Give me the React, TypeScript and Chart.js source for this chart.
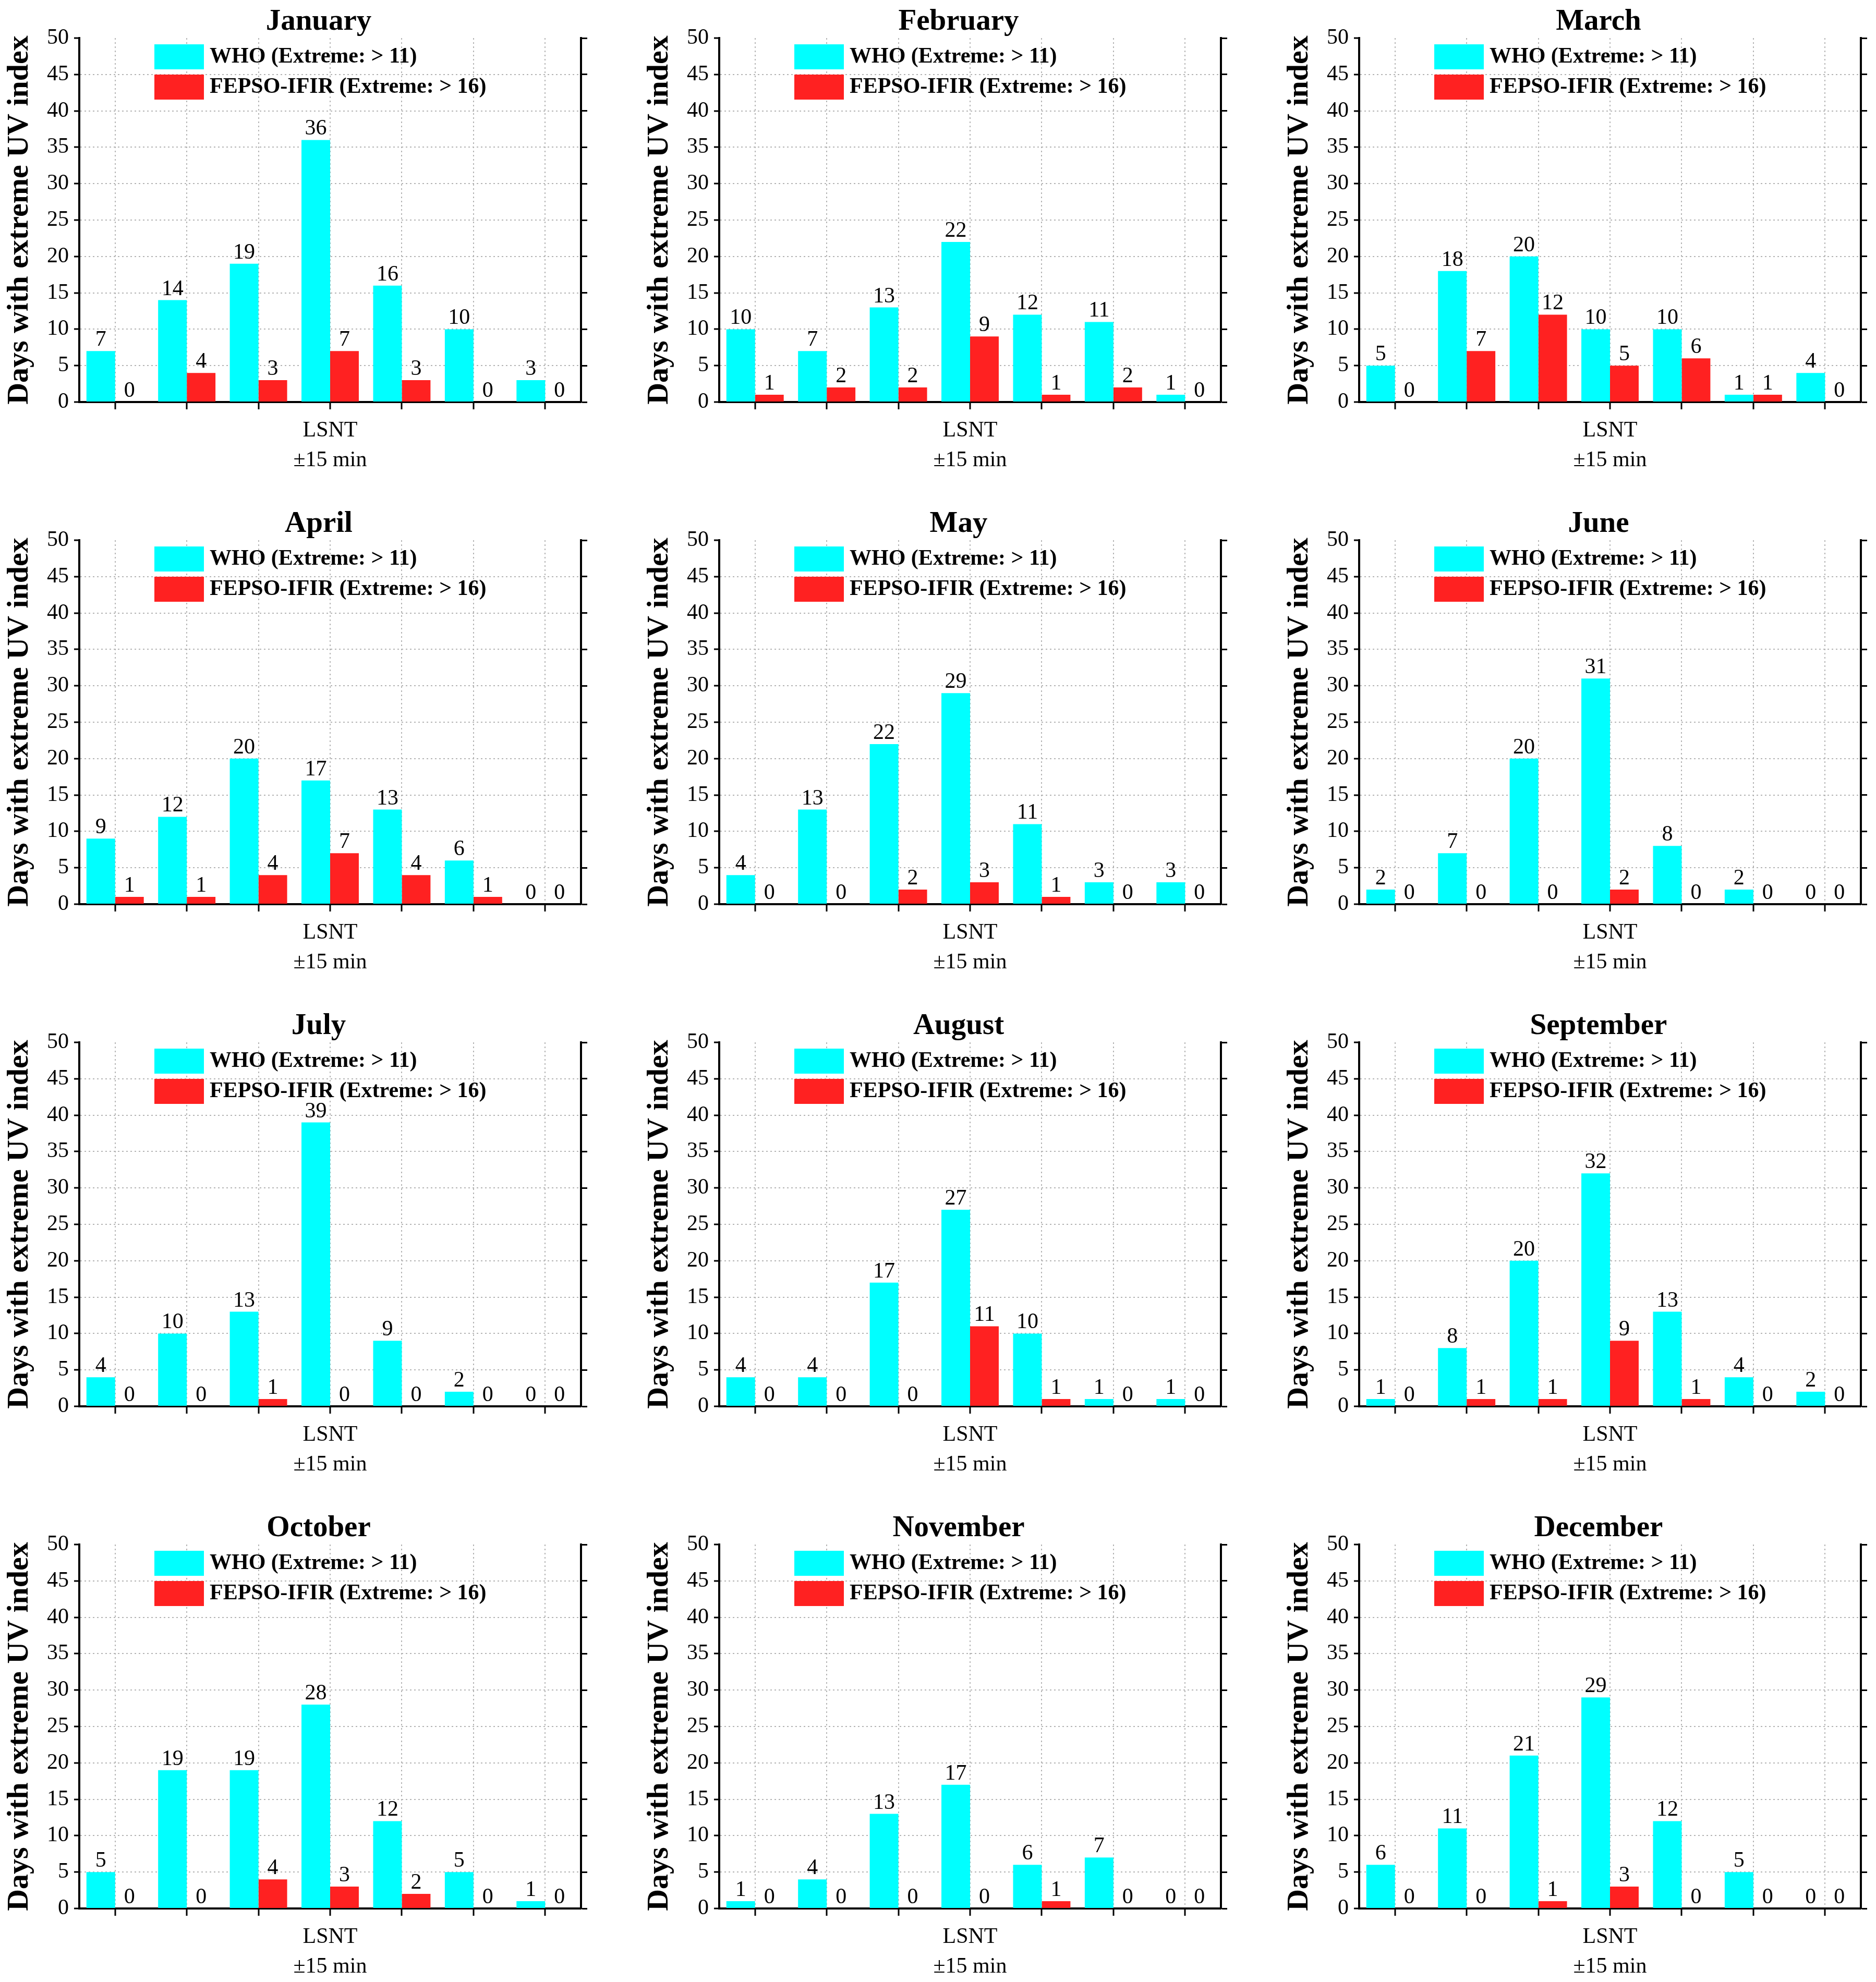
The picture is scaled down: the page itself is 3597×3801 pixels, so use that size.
import React, { useEffect, useRef } from 'react';
import { Chart, registerables } from 'chart.js';

Chart.register(...registerables);

const FONT = '"Liberation Serif", "Times New Roman", Times, serif';
const CYAN = '#00FFFF';
const RED = '#FF2121';
const GRID = '#b4b4b4';

const seriesNames = ['WHO (Extreme: > 11)', 'FEPSO-IFIR (Extreme: > 16)'];
const categories: (string | string[])[] = ['', '', '', ['LSNT', '±15 min'], '', '', ''];
const yAxisTitle = 'Days with extreme UV index';
const months = [
  'January', 'February', 'March', 'April', 'May', 'June',
  'July', 'August', 'September', 'October', 'November', 'December',
];

const whoJan = [7, 14, 19, 36, 16, 10, 3];
const fepsoJan = [0, 4, 3, 7, 3, 0, 0];
const whoFeb = [10, 7, 13, 22, 12, 11, 1];
const fepsoFeb = [1, 2, 2, 9, 1, 2, 0];
const whoMar = [5, 18, 20, 10, 10, 1, 4];
const fepsoMar = [0, 7, 12, 5, 6, 1, 0];
const whoApr = [9, 12, 20, 17, 13, 6, 0];
const fepsoApr = [1, 1, 4, 7, 4, 1, 0];
const whoMay = [4, 13, 22, 29, 11, 3, 3];
const fepsoMay = [0, 0, 2, 3, 1, 0, 0];
const whoJun = [2, 7, 20, 31, 8, 2, 0];
const fepsoJun = [0, 0, 0, 2, 0, 0, 0];
const whoJul = [4, 10, 13, 39, 9, 2, 0];
const fepsoJul = [0, 0, 1, 0, 0, 0, 0];
const whoAug = [4, 4, 17, 27, 10, 1, 1];
const fepsoAug = [0, 0, 0, 11, 1, 0, 0];
const whoSep = [1, 8, 20, 32, 13, 4, 2];
const fepsoSep = [0, 1, 1, 9, 1, 0, 0];
const whoOct = [5, 19, 19, 28, 12, 5, 1];
const fepsoOct = [0, 0, 4, 3, 2, 0, 0];
const whoNov = [1, 4, 13, 17, 6, 7, 0];
const fepsoNov = [0, 0, 0, 0, 1, 0, 0];
const whoDec = [6, 11, 21, 29, 12, 5, 0];
const fepsoDec = [0, 0, 1, 3, 0, 0, 0];

const whoByMonth = [whoJan, whoFeb, whoMar, whoApr, whoMay, whoJun, whoJul, whoAug, whoSep, whoOct, whoNov, whoDec];
const fepsoByMonth = [fepsoJan, fepsoFeb, fepsoMar, fepsoApr, fepsoMay, fepsoJun, fepsoJul, fepsoAug, fepsoSep, fepsoOct, fepsoNov, fepsoDec];

const W = 1222;
const H = 923;
const COL = 1227;
const ROW = 963;

const valueLabels = {
  id: 'valueLabels',
  afterDatasetsDraw(chart: any) {
    const { ctx } = chart;
    ctx.save();
    ctx.font = `42px ${FONT}`;
    ctx.fillStyle = '#000';
    ctx.textAlign = 'center';
    ctx.textBaseline = 'alphabetic';
    chart.data.datasets.forEach((ds: any, i: number) => {
      const meta = chart.getDatasetMeta(i);
      meta.data.forEach((el: any, j: number) => {
        ctx.fillText(String(ds.data[j]), el.x, el.y - 10);
      });
    });
    ctx.restore();
  },
};

const boxLegend = {
  id: 'boxLegend',
  afterDatasetsDraw(chart: any) {
    const { ctx, chartArea } = chart;
    ctx.save();
    ctx.font = `bold 42px ${FONT}`;
    ctx.textAlign = 'left';
    ctx.textBaseline = 'middle';
    chart.data.datasets.forEach((ds: any, i: number) => {
      const bx = chartArea.left + 144;
      const by = chartArea.top + 12 + i * 58;
      ctx.fillStyle = ds.backgroundColor;
      ctx.fillRect(bx, by, 95, 48);
      ctx.fillStyle = '#000';
      ctx.fillText(ds.label, bx + 106, by + 24);
    });
    ctx.restore();
  },
};

function Panel({ title, who, fepso, left, top }: { title: string; who: number[]; fepso: number[]; left: number; top: number }) {
  const ref = useRef<HTMLCanvasElement | null>(null);
  useEffect(() => {
    if (!ref.current) return;
    const chart = new Chart(ref.current, {
      type: 'bar',
      data: {
        labels: categories as any,
        datasets: [
          { label: seriesNames[0], data: who, backgroundColor: CYAN, borderWidth: 0, categoryPercentage: 0.8, barPercentage: 1.0 },
          { label: seriesNames[1], data: fepso, backgroundColor: RED, borderWidth: 0, categoryPercentage: 0.8, barPercentage: 1.0 },
        ],
      },
      options: {
        responsive: false,
        animation: false,
        devicePixelRatio: 1,
        layout: { padding: { left: 5, right: 5, top: 0, bottom: 0 } },
        plugins: {
          legend: { display: false },
          tooltip: { enabled: false },
          title: {
            display: true,
            text: title,
            color: '#000',
            font: { family: FONT, size: 57, weight: 'bold', lineHeight: 1 },
            padding: { top: 14, bottom: 2 },
          },
        },
        scales: {
          x: {
            type: 'category',
            offset: true,
            grid: {
              offset: false,
              color: GRID,
              lineWidth: 2,
              tickColor: '#000',
              tickLength: 14,
              tickWidth: 3,
              drawOnChartArea: true,
            },
            border: { display: true, color: '#000', width: 4, dash: [3, 5] },
            ticks: {
              autoSkip: false,
              maxRotation: 0,
              minRotation: 0,
              padding: 12,
              color: '#000',
              font: { family: FONT, size: 42, lineHeight: 57 / 42 },
            },
          },
          y: {
            type: 'linear',
            position: 'left',
            min: 0,
            max: 50,
            ticks: {
              stepSize: 5,
              padding: 10,
              color: '#000',
              font: { family: FONT, size: 42, lineHeight: 1.2 },
            },
            grid: {
              color: (c: any) => (c.tick && (c.tick.value === 0 || c.tick.value === 50) ? 'rgba(0,0,0,0)' : GRID),
              lineWidth: 2,
              tickColor: '#000',
              tickLength: 10,
              tickWidth: 3,
            },
            border: { display: true, color: '#000', width: 4, dash: [3, 5] },
            title: {
              display: true,
              text: yAxisTitle,
              color: '#000',
              font: { family: FONT, size: 58, weight: 'bold', lineHeight: 1 },
              padding: { top: 4, bottom: 13 },
            },
          },
          y2: {
            type: 'linear',
            position: 'right',
            min: 0,
            max: 50,
            ticks: { display: false, stepSize: 5 },
            grid: { drawOnChartArea: false, tickColor: '#000', tickLength: 12, tickWidth: 3 },
            border: { display: true, color: '#000', width: 4 },
            afterFit: (scale: any) => {
              scale.width = 103;
            },
          },
        },
      } as any,
      plugins: [valueLabels, boxLegend],
    });
    return () => chart.destroy();
  }, [title, who, fepso]);
  return (
    <canvas
      ref={ref}
      width={W}
      height={H}
      style={{ position: 'absolute', left, top, width: W, height: H }}
    />
  );
}

export default function App() {
  return (
    <div
      style={{
        position: 'fixed',
        left: 0,
        top: 0,
        width: 3597,
        height: 3801,
        background: '#ffffff',
        overflow: 'hidden',
      }}
    >
      {months.map((m, i) => (
        <Panel
          key={m}
          title={m}
          who={whoByMonth[i]}
          fepso={fepsoByMonth[i]}
          left={(i % 3) * COL}
          top={Math.floor(i / 3) * ROW}
        />
      ))}
    </div>
  );
}
